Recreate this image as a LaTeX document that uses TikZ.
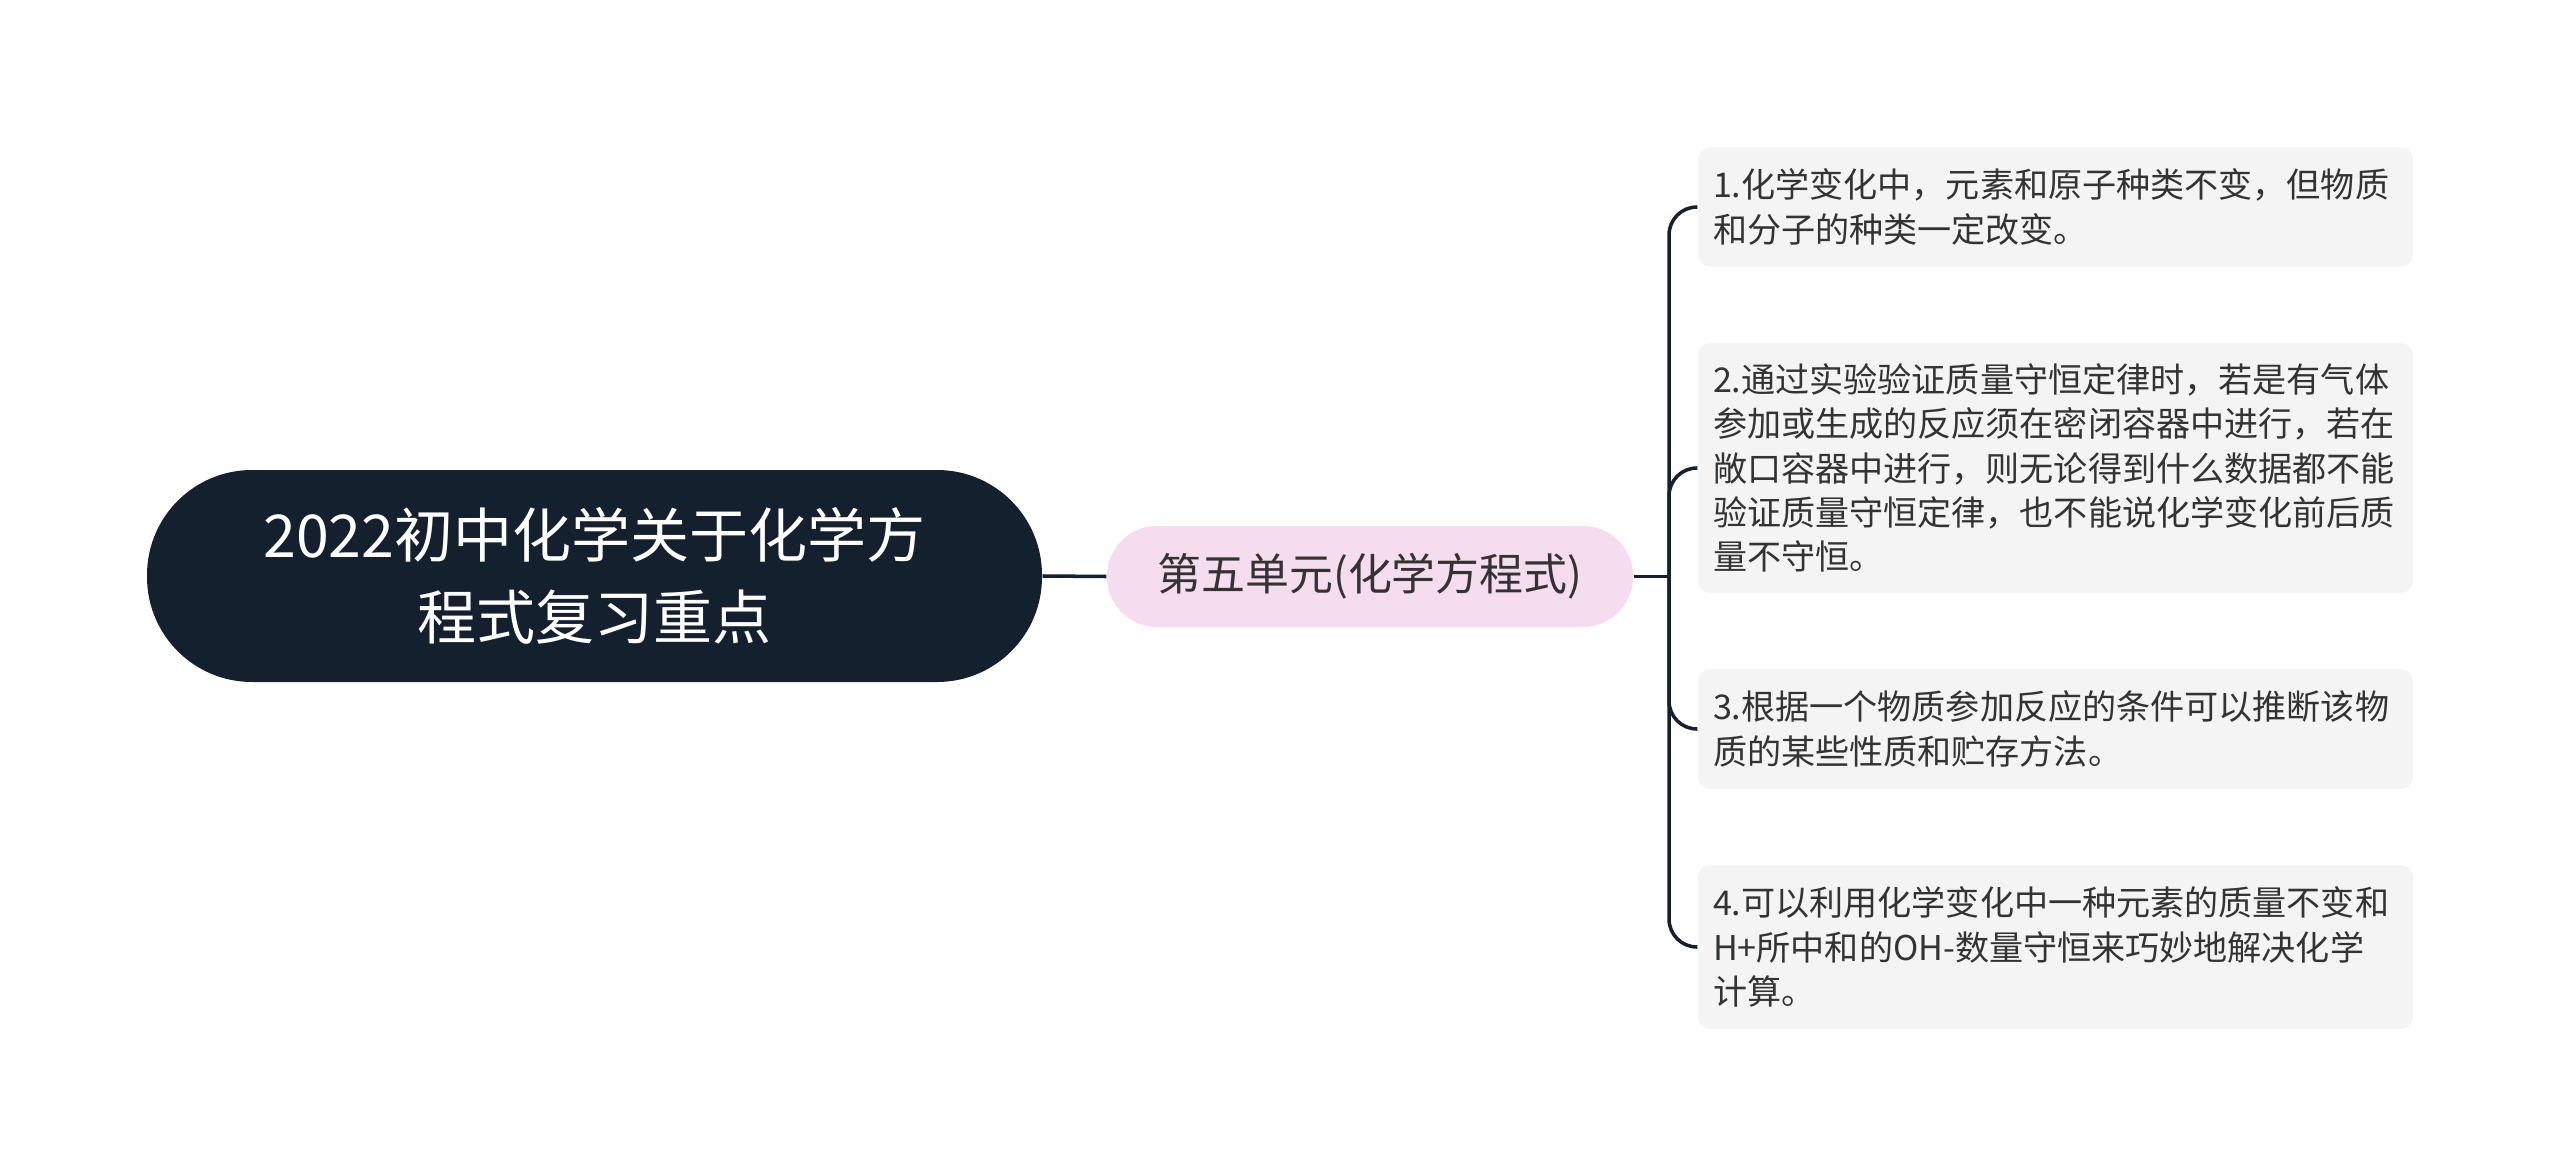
\documentclass[tikz,border=0pt]{standalone}
\usepackage{fontspec}
\setmainfont{Noto Sans CJK SC}
\usetikzlibrary{positioning}
\definecolor{rootblue}{HTML}{15202F}
\definecolor{unitpink}{HTML}{F5DCEF}
\definecolor{leafgray}{HTML}{F4F4F4}
\definecolor{txtgray}{HTML}{333333}

\begin{document}
\begin{tikzpicture}
		[link/.style={draw=rootblue, line width=1pt},
		 leaf/.style={fill=leafgray, rounded corners=0.12cm, text=txtgray,
			text width=6.85cm, inner xsep=0.15cm, inner ysep=0pt, align=left,
			font=\fontsize{9.7}{12.6}\selectfont}]
		\useasboundingbox (0,0) rectangle (25.6,-11.75);
		\node (root) [fill=rootblue, text=white, rounded corners=1.05cm,
			minimum width=8.95cm, minimum height=2.12cm, align=center,
			font=\fontsize{16.8}{23.5}\selectfont] at (5.945,-5.76)
			{2022初中化学关于化学方\\程式复习重点};
		\node (unit) [fill=unitpink, text=txtgray, rounded corners=0.5cm,
			minimum width=5.26cm, minimum height=1.01cm,
			font=\fontsize{12.5}{16}\selectfont] at (13.70,-5.765)
			{第五单元(化学方程式)};
		\node (p1) [leaf, minimum height=1.19cm] at (20.555,-2.07)
			{1.化学变化中，元素和原子种类不变，但物质\\和分子的种类一定改变。};
		\node (p2) [leaf, minimum height=2.5cm] at (20.555,-4.68)
			{2.通过实验验证质量守恒定律时，若是有气体\\参加或生成的反应须在密闭容器中进行，若在\\敞口容器中进行，则无论得到什么数据都不能\\验证质量守恒定律，也不能说化学变化前后质\\量不守恒。};
		\node (p3) [leaf, minimum height=1.2cm] at (20.555,-7.29)
			{3.根据一个物质参加反应的条件可以推断该物\\质的某些性质和贮存方法。};
		\node (p4) [leaf, minimum height=1.64cm] at (20.555,-9.47)
			{4.可以利用化学变化中一种元素的质量不变和\\H+所中和的OH-数量守恒来巧妙地解决化学\\计算。};

		\coordinate (hub) at (16.69,-5.765);
		\draw[link] (root.east) -- (unit.west);
		\draw[link] (unit.east) -- (hub);
		\foreach \p in {p1,p2,p3,p4}
			\draw[link, rounded corners=0.28cm] (hub) |- (\p.west);
	\end{tikzpicture}
\end{document}
